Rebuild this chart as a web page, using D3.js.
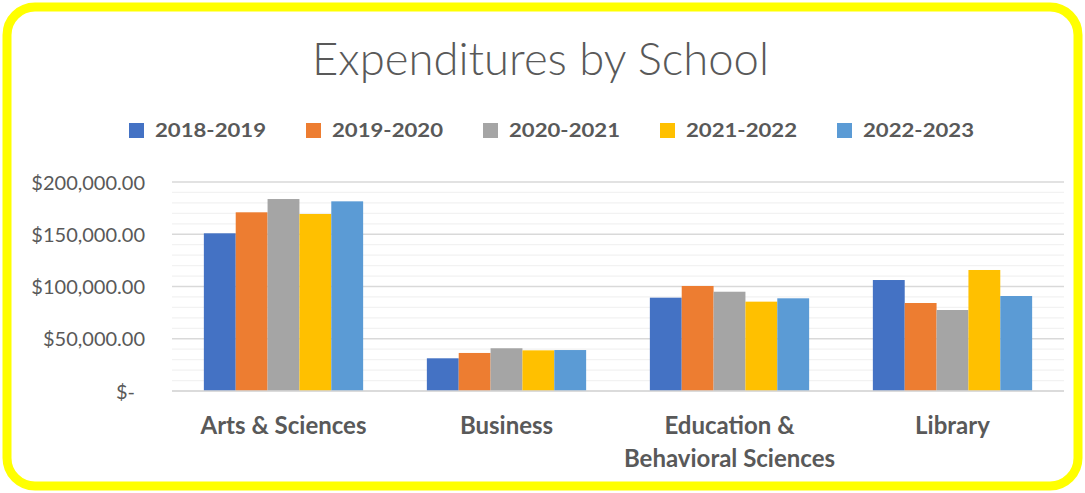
<!DOCTYPE html>
<html>
<head>
<meta charset="utf-8">
<script src="https://cdn.jsdelivr.net/npm/d3@7"></script>
<style>
  body { margin: 0; background: #fff; }
  text { font-family: Lato, "Open Sans", sans-serif; fill: #595959; }
</style>
</head>
<body>
<script>
const schools = ['Arts & Sciences', 'Business', 'Education & Behavioral Sciences', 'Library'];
const schoolLines = [['Arts & Sciences'], ['Business'], ['Education &', 'Behavioral Sciences'], ['Library']];
const years = ['2018-2019', '2019-2020', '2020-2021', '2021-2022', '2022-2023'];
const colors = ['#4472C4', '#ED7D31', '#A5A5A5', '#FFC000', '#5B9BD5'];

// one array per year, in school order
const y2018 = [150900, 31300, 89300, 106200];
const y2019 = [171000, 36400, 100500, 84200];
const y2020 = [183700, 40900, 95000, 77500];
const y2021 = [169400, 38900, 85500, 115800];
const y2022 = [181500, 39200, 88700, 90900];
const series = [y2018, y2019, y2020, y2021, y2022];

const yTicks = [0, 50000, 100000, 150000, 200000];
const yTickLabels = ['$-', '$50,000.00', '$100,000.00', '$150,000.00', '$200,000.00'];

const width = 1085, height = 493;
const margin = {top: 182, right: 21, bottom: 102, left: 172};

const svg = d3.select('body')
  .append('svg')
  .attr('width', width)
  .attr('height', height);

// yellow frame
svg.append('rect')
  .attr('x', 7).attr('y', 7)
  .attr('width', width - 14).attr('height', height - 14)
  .attr('rx', 28).attr('ry', 28)
  .attr('fill', '#fff')
  .attr('stroke', '#FFFF00')
  .attr('stroke-width', 9);

svg.append('text')
  .attr('x', 540.5).attr('y', 75)
  .attr('text-anchor', 'middle')
  .attr('font-size', 46)
  .attr('font-weight', 300)
  .attr('textLength', 457)
  .attr('lengthAdjust', 'spacingAndGlyphs')
  .text('Expenditures by School');

// legend
const legend = svg.append('g').attr('class', 'legend');
years.forEach((yr, i) => {
  const x0 = 129 + i * 177;
  legend.append('rect')
    .attr('x', x0).attr('y', 123)
    .attr('width', 15).attr('height', 15)
    .attr('fill', colors[i]);
  legend.append('text')
    .attr('x', x0 + 26).attr('y', 137)
    .attr('font-size', 19)
    .attr('font-weight', 700)
    .attr('textLength', 111)
    .attr('lengthAdjust', 'spacingAndGlyphs')
    .text(yr);
});

const x0 = d3.scaleBand()
  .domain(schools)
  .range([margin.left, width - margin.right])
  .paddingInner(2 / 7)
  .paddingOuter(1 / 7);

const x1 = d3.scaleBand()
  .domain(years)
  .range([0, x0.bandwidth()]);

const y = d3.scaleLinear()
  .domain([0, 200000])
  .range([height - margin.bottom, margin.top]);

// gridlines, minor every 10k
const grid = svg.append('g').attr('class', 'grid');
grid.selectAll('line.minor')
  .data(d3.range(10000, 200000, 10000).filter(v => v % 50000 !== 0))
  .join('line')
  .attr('class', 'minor')
  .attr('x1', margin.left).attr('x2', width - margin.right)
  .attr('y1', d => y(d)).attr('y2', d => y(d))
  .attr('stroke', '#F2F2F2')
  .attr('stroke-width', 1.3);

grid.selectAll('line.major')
  .data(yTicks)
  .join('line')
  .attr('class', 'major')
  .attr('x1', margin.left).attr('x2', width - margin.right)
  .attr('y1', d => y(d)).attr('y2', d => y(d))
  .attr('stroke', '#D9D9D9')
  .attr('stroke-width', 1.5);

// bars
svg.append('g')
  .selectAll('g')
  .data(series)
  .join('g')
  .attr('fill', (d, i) => colors[i])
  .each(function(vals, i) {
    d3.select(this).selectAll('rect')
      .data(vals)
      .join('rect')
      .attr('x', (v, j) => x0(schools[j]) + x1(years[i]))
      .attr('y', v => y(v))
      .attr('width', x1.bandwidth())
      .attr('height', v => y(0) - y(v));
  });

// baseline on top of bars
svg.append('line')
  .attr('x1', margin.left).attr('x2', width - margin.right)
  .attr('y1', y(0)).attr('y2', y(0))
  .attr('stroke', '#D9D9D9')
  .attr('stroke-width', 1.5);

// y axis labels
const yAxis = d3.axisLeft(y)
  .tickValues(yTicks)
  .tickFormat((d, i) => yTickLabels[i])
  .tickSize(0)
  .tickPadding(0);

svg.append('g')
  .attr('class', 'yaxis')
  .attr('transform', 'translate(145,0)')
  .call(yAxis)
  .call(g => g.select('.domain').remove())
  .call(g => g.selectAll('text')
    .attr('font-size', 20)
    .attr('fill', '#595959')
    .attr('font-family', 'Lato, "Open Sans", sans-serif')
    .attr('dy', '0.35em')
    .attr('dx', d => d === 0 ? -10 : 0));

// x axis labels
const xAxis = svg.append('g').attr('class', 'xaxis');
schools.forEach((s, i) => {
  const cx = x0(s) + x0.bandwidth() / 2;
  schoolLines[i].forEach((line, k) => {
    xAxis.append('text')
      .attr('x', cx).attr('y', 434 + k * 33)
      .attr('text-anchor', 'middle')
      .attr('font-size', 24)
      .attr('font-weight', 700)
      .text(line);
  });
});
</script>
</body>
</html>
